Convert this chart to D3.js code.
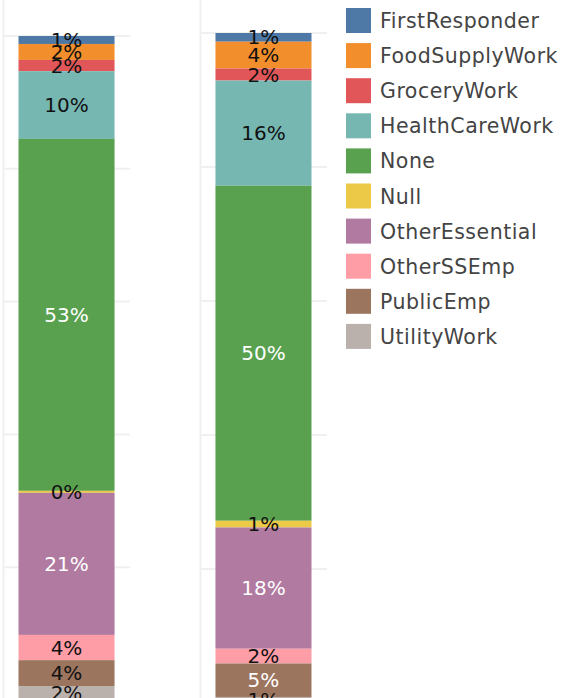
<!DOCTYPE html>
<html>
<head>
<meta charset="utf-8">
<script src="https://cdn.jsdelivr.net/npm/d3@7"></script>
<style>
  body { margin: 0; background: #ffffff; }
  svg { display: block; }
</style>
</head>
<body>
<div class="chart"></div>
<script>
// Categories, top of the stack first
var categories = ["FirstResponder", "FoodSupplyWork", "GroceryWork", "HealthCareWork", "None",
    "Null", "OtherEssential", "OtherSSEmp", "PublicEmp", "UtilityWork"];
var colors = ["#4e79a7", "#f28e2b", "#e15759", "#76b7b2", "#59a14f",
    "#edc948", "#b07aa1", "#ff9da7", "#9c755f", "#bab0ac"];
var panels = ["left", "right"];
// Percent of total
var leftValues = [1.2, 2.4, 1.7, 10.2, 53.0, 0.3, 21.4, 3.8, 3.9, 2.1];
var rightValues = [1.3, 4.0, 1.8, 15.7, 50.0, 1.0, 18.1, 2.2, 5.0, 0.9];
var gridTicks = [0, 20, 40, 60, 80, 100];
// Segments that get a white label
var leftWhite = ["None", "OtherEssential"];
var rightWhite = ["None", "OtherEssential", "PublicEmp"];

var width = 567, height = 698;
var font = "'DejaVu Sans', sans-serif";

var svg = d3.select(".chart").append("svg")
    .attr("width", width)
    .attr("height", height);

var color = d3.scaleOrdinal().domain(categories).range(colors);

//Panel positions
var panelX = d3.scaleBand().domain(panels).range([3, 327]).paddingInner(0.355);
var barX = d3.scaleBand().domain(["bar"]).range([0, panelX.bandwidth()]).padding(0.139);

//Each pane has its own vertical extent
var yScales = {
    left: d3.scaleLinear().domain([0, 100]).range([36, 700]),
    right: d3.scaleLinear().domain([0, 100]).range([33, 703])
};

var panelData = {
    left: { values: leftValues, white: leftWhite },
    right: { values: rightValues, white: rightWhite }
};

panels.forEach(function (p) {
    var y = yScales[p];
    var x0 = panelX(p);
    var g = svg.append("g").attr("transform", "translate(" + x0 + ",0)");

    //Grid lines
    g.selectAll(".grid")
        .data(gridTicks)
        .enter().append("line")
        .attr("x1", 0)
        .attr("x2", panelX.bandwidth())
        .attr("y1", function (d) { return y(d); })
        .attr("y2", function (d) { return y(d); })
        .style("stroke", "#f0f0f0")
        .style("stroke-width", 2);

    //Pane border on the left
    g.append("line")
        .attr("x1", 0.5).attr("x2", 0.5)
        .attr("y1", 0).attr("y2", height)
        .style("stroke", "#f0f0f0")
        .style("stroke-width", 2);

    //Stack the values
    var row = {};
    categories.forEach(function (c, i) { row[c] = panelData[p].values[i]; });
    var stacked = d3.stack().keys(categories)([row]);

    g.selectAll(".seg")
        .data(stacked)
        .enter().append("rect")
        .attr("x", barX("bar"))
        .attr("width", barX.bandwidth())
        .attr("y", function (d) { return y(d[0][0]); })
        .attr("height", function (d) { return y(d[0][1]) - y(d[0][0]); })
        .attr("fill", function (d) { return color(d.key); });

    g.selectAll(".lbl")
        .data(stacked)
        .enter().append("text")
        .attr("x", barX("bar") + barX.bandwidth() / 2)
        .attr("y", function (d) { return (y(d[0][0]) + y(d[0][1])) / 2; })
        .attr("text-anchor", "middle")
        .attr("dominant-baseline", "central")
        .style("font-family", font)
        .style("font-size", "20px")
        .style("fill", function (d) {
            return panelData[p].white.indexOf(d.key) >= 0 ? "#ffffff" : "#111111";
        })
        .text(function (d) { return Math.round(d[0][1] - d[0][0]) + "%"; });
});

//Legend
var legend = svg.append("g").attr("transform", "translate(346,8)");
var items = legend.selectAll(".item")
    .data(categories)
    .enter().append("g")
    .attr("transform", function (d, i) { return "translate(0," + (i * 35.1) + ")"; });

items.append("rect")
    .attr("width", 25)
    .attr("height", 25)
    .attr("fill", function (d) { return color(d); });

items.append("text")
    .attr("x", 34)
    .attr("y", 13)
    .attr("dominant-baseline", "central")
    .style("font-family", font)
    .style("font-size", "20.5px")
    .style("letter-spacing", "0.5px")
    .style("fill", "#444444")
    .text(function (d) { return d; });
</script>
</body>
</html>
